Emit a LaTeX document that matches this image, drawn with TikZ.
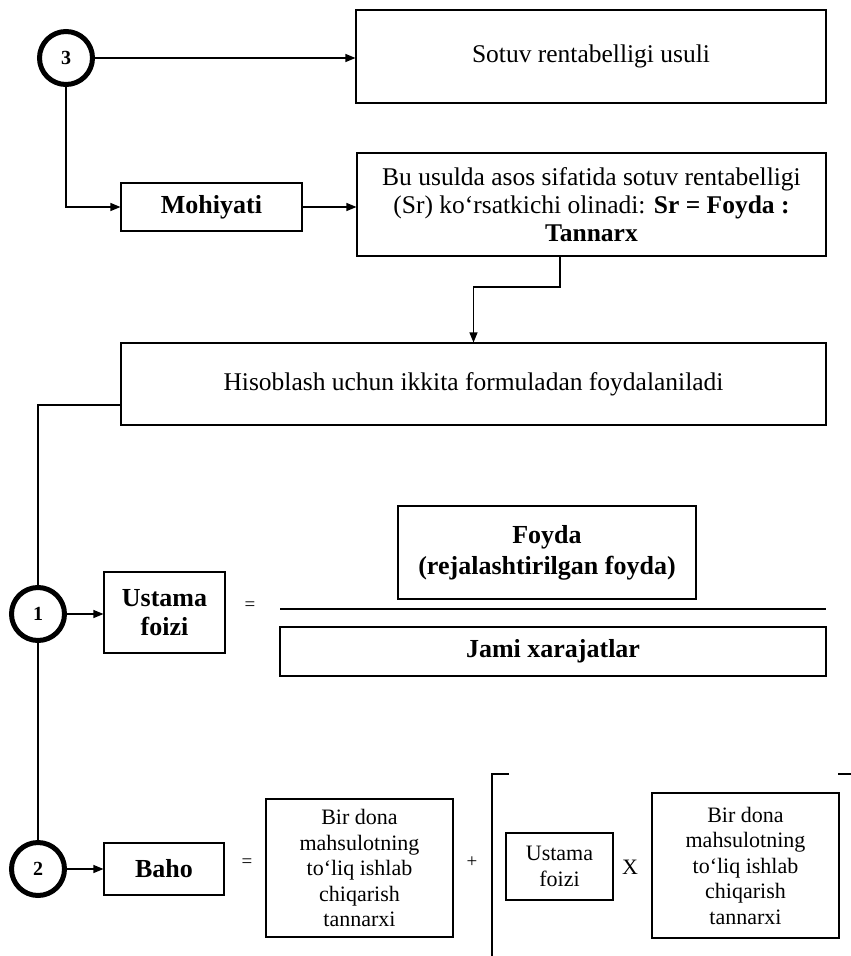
\documentclass[tikz,border=0pt]{standalone}
\usepackage{fontspec}
\setmainfont{Liberation Serif}
\usetikzlibrary{arrows.meta}

\begin{document}
\begin{tikzpicture}[x=1pt,y=-1pt,
  box/.style={draw,line width=1.1pt,inner sep=0pt,align=center,font=\fontsize{25.5}{28}\selectfont},
  smallbox/.style={box,font=\fontsize{22}{25.5}\selectfont},
  num/.style={draw,circle,line width=5pt,minimum size=53pt,inner sep=0pt,font=\fontsize{20}{20}\selectfont\bfseries},
  arr/.style={line width=1.1pt,-{Triangle[length=10pt,width=8pt]}},
  link/.style={line width=1.1pt},
  sign/.style={inner sep=0pt,font=\fontsize{19}{19}\selectfont}]
 \useasboundingbox (0,0) rectangle (851,956);
 \node[num] (c3) at (66,58) {3};
 \node[num] (c1) at (38,614) {1};
 \node[num] (c2) at (38,869) {2};
 \node[box,minimum width=470pt,minimum height=93pt] (sotuv) at (591,56.5) {Sotuv rentabelligi usuli};
 \node[box,minimum width=181pt,minimum height=48pt,font=\fontsize{26}{28}\selectfont\bfseries] (mohiyat) at (211.5,207) {Mohiyati};
 \node[box,minimum width=469pt,minimum height=103pt] (usul) at (591.5,204.5)
    {Bu usulda asos sifatida sotuv rentabelligi\\(Sr) ko‘rsatkichi olinadi: \textbf{Sr = Foyda :}\\\textbf{Tannarx}};
 \node[box,minimum width=705pt,minimum height=82pt] (hisob) at (473.5,384) {Hisoblash uchun ikkita formuladan foydalaniladi};
 \node[box,minimum width=121pt,minimum height=81pt,font=\fontsize{26}{29}\selectfont\bfseries] (ustama) at (164.5,612.5) {Ustama\\foizi};
 \node[box,minimum width=298pt,minimum height=93pt,font=\fontsize{26}{31}\selectfont\bfseries] (foyda) at (547,552.5) {Foyda\\(rejalashtirilgan foyda)};
 \node[box,minimum width=546pt,minimum height=49pt,font=\fontsize{26}{28}\selectfont\bfseries] (jami) at (553,651.5) {Jami xarajatlar};
 \node[box,minimum width=120pt,minimum height=52pt,font=\fontsize{26}{28}\selectfont\bfseries] (baho) at (164,869) {Baho};
 \node[smallbox,minimum width=187pt,minimum height=138pt] (tannarx1) at (359.5,868)
    {Bir dona\\mahsulotning\\to‘liq ishlab\\chiqarish\\tannarxi};
 \node[smallbox,minimum width=107pt,minimum height=67pt] (ustama2) at (559.5,866.5) {Ustama\\foizi};
 \node[smallbox,minimum width=187pt,minimum height=145pt] (tannarx2) at (745.5,865.5)
    {Bir dona\\mahsulotning\\to‘liq ishlab\\chiqarish\\tannarxi};
 \node[sign] (eq1) at (250,606) {=};
 \node[sign] (eq2) at (247,863) {=};
 \node[sign] (plus) at (472,862) {+};
 \node[sign,font=\fontsize{22}{22}\selectfont] (times) at (630,867) {X};
 \coordinate (bend) at (560,287);
 \coordinate (split) at (38,405);
 \coordinate (fracl) at (280,609);
 \coordinate (fracr) at (826,609);
 \draw[arr] (c3) -- (c3 -| sotuv.west);
 \draw[arr] (c3) |- (mohiyat.west);
 \draw[arr] (mohiyat) -- (mohiyat -| usul.west);
 \draw[arr] (usul.south -| bend) -- (bend) -| (hisob.north);
 \draw[link,line width=2pt] (hisob.west |- split) -- (split) -- (c1);
 \draw[link] (c1) -- (c2);
 \draw[arr] (c1) -- (c1 -| ustama.west);
 \draw[arr] (c2) -- (c2 -| baho.west);
 \draw[line width=1.6pt] (fracl) -- (fracr);
 \draw[line width=1.6pt] (509,774) -- (492,774) -- (492,956);
 \draw[line width=1.6pt] (838,774) -- (851,774);
\end{tikzpicture}
\end{document}
